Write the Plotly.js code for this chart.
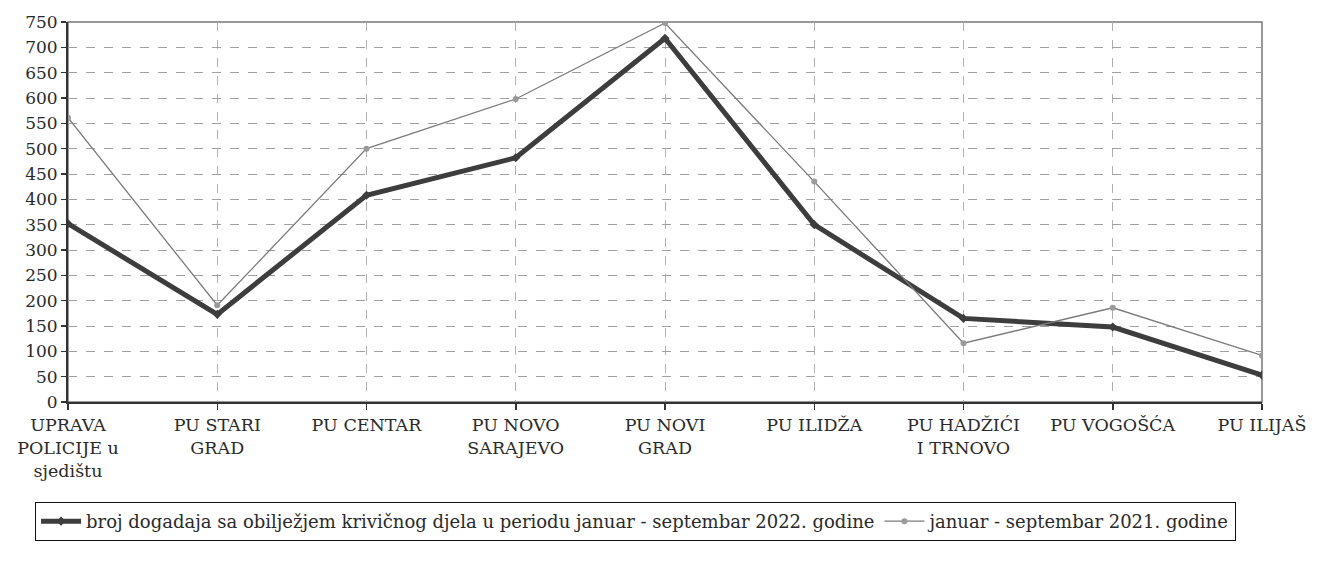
<!DOCTYPE html>
<html>
<head>
<meta charset="utf-8">
<script src="https://cdn.plot.ly/plotly-3.0.1.min.js"></script>
<style>html,body{margin:0;padding:0;background:#fff;}#chart{width:1327px;height:578px;}</style>
</head>
<body>
<div id="chart"></div>
<script>
const categories = [
  "UPRAVA<br>POLICIJE u<br>sjedištu",
  "PU STARI<br>GRAD",
  "PU CENTAR",
  "PU NOVO<br>SARAJEVO",
  "PU NOVI<br>GRAD",
  "PU ILIDŽA",
  "PU HADŽIĆI<br>I TRNOVO",
  "PU VOGOŠĆA",
  "PU ILIJAŠ"
];
const positions = [0, 1, 2, 3, 4, 5, 6, 7, 8];
const values2022 = [352, 173, 408, 482, 718, 350, 165, 148, 53];
const values2021 = [561, 191, 500, 598, 748, 435, 116, 186, 92];
const seriesNames = [
  "broj dogadaja sa obilježjem krivičnog djela u periodu januar - septembar 2022. godine",
  "januar - septembar 2021. godine"
];
const yTicks = [0,50,100,150,200,250,300,350,400,450,500,550,600,650,700,750];

const serif = "DejaVu Serif";

const traces = [
  {
    x: positions, y: values2022, name: seriesNames[0], type: "scatter", mode: "lines+markers",
    line: {color: "#3d3d3d", width: 5},
    marker: {symbol: "diamond", size: 7, color: "#3d3d3d"}
  },
  {
    x: positions, y: values2021, name: seriesNames[1], type: "scatter", mode: "lines+markers",
    line: {color: "#7a7a7a", width: 1.3},
    marker: {symbol: "circle", size: 6, color: "#9a9a9a"}
  }
];

const layout = {
  width: 1327, height: 578,
  margin: {l: 68, r: 65, t: 22, b: 176},
  paper_bgcolor: "#fff", plot_bgcolor: "#fff",
  font: {family: serif, color: "#2a2a2a", size: 17},
  showlegend: true,
  legend: {
    orientation: "h", x: -0.0276, xanchor: "left", y: -0.263, yanchor: "top",
    bordercolor: "#111", borderwidth: 1, bgcolor: "#fff",
    font: {family: serif, size: 18, color: "#2a2a2a"},
    itemwidth: 40, tracegroupgap: 0
  },
  xaxis: {
    range: [0, 8], tickmode: "array", tickvals: positions, ticktext: categories,
    showgrid: true, gridcolor: "#b0b0b0", griddash: "dash", gridwidth: 1,
    showline: true, linecolor: "#333", linewidth: 2,
    ticks: "outside", ticklen: 6, tickcolor: "#333", tickwidth: 1.5,
    tickfont: {family: serif, size: 17.5, color: "#2a2a2a"},
    zeroline: false, fixedrange: true
  },
  yaxis: {
    range: [0, 750], tickmode: "array", tickvals: yTicks,
    showgrid: true, gridcolor: "#a0a0a0", griddash: "dash", gridwidth: 1,
    showline: true, linecolor: "#333", linewidth: 2,
    ticks: "outside", ticklen: 5, tickcolor: "#333", tickwidth: 1.5,
    tickfont: {family: serif, size: 17, color: "#2a2a2a"},
    zeroline: false, fixedrange: true
  },
  shapes: [
    {type: "rect", xref: "paper", yref: "paper", x0: 0, x1: 1, y0: 0, y1: 1,
     line: {color: "#777", width: 1.5}, layer: "below"}
  ]
};

Plotly.newPlot("chart", traces, layout, {staticPlot: true, displayModeBar: false});
</script>
</body>
</html>
